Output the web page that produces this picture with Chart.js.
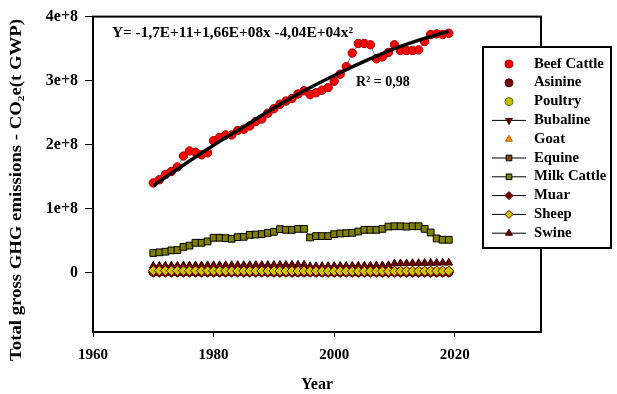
<!DOCTYPE html>
<html>
<head>
<meta charset="utf-8">
<script src="https://cdn.jsdelivr.net/npm/chart.js@4"></script>
<style>
  html, body { margin: 0; padding: 0; background: #fff; }
</style>
</head>
<body>
<canvas id="myChart" width="617" height="394"></canvas>
<script>
// years of the series
const years = [1970,1971,1972,1973,1974,1975,1976,1977,1978,1979,
               1980,1981,1982,1983,1984,1985,1986,1987,1988,1989,
               1990,1991,1992,1993,1994,1995,1996,1997,1998,1999,
               2000,2001,2002,2003,2004,2005,2006,2007,2008,2009,
               2010,2011,2012,2013,2014,2015,2016,2017,2018,2019];

// values in million t CO2e
const beefCattle = [140,145,153,158,165,182,190,188,184,187,
                    206,211,215,215,222,224,229,236,240,249,
                    256,263,268,272,279,284,278,281,285,289,
                    299,310,322,343,358,358,356,334,337,344,
                    356,347,347,347,348,361,372,373,372,374];
const milkCattle = [30.5,31.5,32.5,34.6,35,40,42,46.5,46.5,48.6,
                    54.3,54.3,53.7,52.7,55.3,55.8,58.9,59.4,60,62,
                    63.6,67.7,66.7,66.7,68.2,68.2,54.8,56.9,56.9,56.9,
                    59.9,61,61.5,62,64,66.7,66.7,66.7,68.2,71.8,
                    72.3,72.3,71.8,72.3,72.3,68.2,62.5,53.2,51.2,51.2];
const swine = [10.2,10.3,10.4,10.5,10.6,10.8,10.9,11.0,11.0,11.1,
               11.2,11.2,11.3,11.3,11.4,11.4,11.5,11.5,11.6,11.6,
               11.7,11.8,11.8,11.9,11.9,12.0,9.6,9.7,9.8,9.9,
               10.0,10.1,10.2,10.3,10.4,10.5,10.6,10.7,10.9,11.2,
               14.0,14.2,14.3,14.5,14.6,14.8,14.9,15.0,15.1,15.2];
const sheep = [2.8,2.8,2.7,2.7,2.7,2.6,2.6,2.6,2.5,2.5,
               2.5,2.5,2.4,2.4,2.4,2.4,2.3,2.3,2.3,2.3,
               2.3,2.2,2.2,2.2,2.2,2.2,2.1,2.1,2.1,2.1,
               2.1,2.1,2.0,2.0,2.0,2.0,2.0,2.0,2.1,2.1,
               2.1,2.1,2.2,2.2,2.2,2.2,2.3,2.3,2.3,2.3];
const poultry = [0.5,0.5,0.6,0.6,0.6,0.7,0.7,0.7,0.8,0.8,
                 0.8,0.9,0.9,0.9,1.0,1.0,1.0,1.1,1.1,1.1,
                 1.2,1.2,1.2,1.3,1.3,1.3,1.4,1.4,1.4,1.5,
                 1.5,1.5,1.6,1.6,1.6,1.7,1.7,1.7,1.8,1.8,
                 1.8,1.9,1.9,1.9,2.0,2.0,2.0,2.1,2.1,2.1];
const bubaline = [0.9,0.9,0.9,0.9,0.9,0.9,0.9,0.9,0.9,0.9,
                  0.9,0.9,0.9,0.9,0.9,0.8,0.8,0.8,0.8,0.8,
                  0.8,0.8,0.8,0.8,0.8,0.8,0.8,0.8,0.8,0.8,
                  0.8,0.8,0.8,0.8,0.8,0.9,0.9,0.9,0.9,0.9,
                  0.9,0.9,0.9,0.9,0.9,0.9,0.9,0.9,0.9,0.9];
const muar = [0.3,0.3,0.3,0.3,0.3,0.3,0.3,0.3,0.3,0.3,
              0.3,0.3,0.3,0.3,0.3,0.3,0.3,0.3,0.3,0.3,
              0.2,0.2,0.2,0.2,0.2,0.2,0.2,0.2,0.2,0.2,
              0.2,0.2,0.2,0.2,0.2,0.2,0.2,0.2,0.2,0.2,
              0.2,0.2,0.2,0.2,0.2,0.2,0.2,0.2,0.2,0.2];
const equine = [0.6,0.6,0.6,0.6,0.6,0.6,0.6,0.6,0.6,0.6,
                0.5,0.5,0.5,0.5,0.5,0.5,0.5,0.5,0.5,0.5,
                0.5,0.5,0.5,0.5,0.5,0.5,0.5,0.5,0.5,0.5,
                0.4,0.4,0.4,0.4,0.4,0.4,0.4,0.4,0.4,0.4,
                0.4,0.4,0.4,0.4,0.4,0.4,0.4,0.4,0.4,0.4];
const goat = [0.4,0.4,0.4,0.4,0.4,0.4,0.4,0.4,0.4,0.4,
              0.4,0.4,0.4,0.4,0.4,0.4,0.4,0.4,0.4,0.4,
              0.4,0.4,0.4,0.4,0.4,0.4,0.4,0.4,0.4,0.4,
              0.4,0.4,0.4,0.4,0.4,0.4,0.4,0.4,0.4,0.4,
              0.4,0.4,0.4,0.4,0.4,0.4,0.4,0.4,0.4,0.4];
const asinine = [0.2,0.2,0.2,0.2,0.2,0.2,0.2,0.2,0.2,0.2,
                 0.2,0.2,0.2,0.2,0.2,0.2,0.2,0.2,0.2,0.2,
                 0.1,0.1,0.1,0.1,0.1,0.1,0.1,0.1,0.1,0.1,
                 0.1,0.1,0.1,0.1,0.1,0.1,0.1,0.1,0.1,0.1,
                 0.1,0.1,0.1,0.1,0.1,0.1,0.1,0.1,0.1,0.1];

// polynomial trend line (million t)
const trendYears = [1970,1975,1980,1985,1990,1995,2000,2005,2010,2015,2019];
const trendValues = [136,168,199,228,257,284,308,330,350,366,377];

const yTicks = [0, 1e8, 2e8, 3e8, 4e8];
const yTickLabels = ['0', '1e+8', '2e+8', '3e+8', '4e+8'];
const xTicks = [1960, 1980, 2000, 2020];

const equationText = 'Y= -1,7E+11+1,66E+08x -4,04E+04x²';
const r2Text = 'R² = 0,98';
const yTitle = 'Total gross GHG emissions - CO₂e(t GWP)';

const FONT = "'Liberation Serif', 'Times New Roman', serif";
Chart.defaults.font.family = FONT;
Chart.defaults.color = '#000';

function series(label, values, style) {
  return Object.assign({
    label: label,
    data: years.map((x, i) => ({ x: x, y: values[i] * 1e6 })),
    inLegend: true,
    pointBorderWidth: 1,
    borderColor: '#000',
    borderWidth: 1
  }, style);
}

const datasets = [
  {
    label: 'trend',
    data: trendYears.map((x, i) => ({ x: x, y: trendValues[i] * 1e6 })),
    showLine: true,
    borderColor: '#000',
    borderWidth: 3.5,
    pointRadius: 0,
    cubicInterpolationMode: 'monotone',
    inLegend: false,
    order: -3
  },
  series('Beef Cattle', beefCattle, { showLine: true, borderColor: '#808080', borderWidth: 1,
    pointStyle: 'circle', pointRadius: 4.2, pointBackgroundColor: '#ff0000', pointBorderColor: '#a00000',
    legendLine: false, order: -2 }),
  series('Asinine', asinine, { showLine: false, pointStyle: 'circle', pointRadius: 4,
    pointBackgroundColor: '#7a0c0c', pointBorderColor: '#4a0000', legendLine: false }),
  series('Poultry', poultry, { showLine: false, pointStyle: 'circle', pointRadius: 4,
    pointBackgroundColor: '#c0c000', pointBorderColor: '#6a6a00', legendLine: false }),
  series('Bubaline', bubaline, { showLine: true, pointStyle: 'triangle', pointRotation: 180, pointRadius: 4.5,
    pointBackgroundColor: '#6a0000', pointBorderColor: '#3a0000', legendLine: true }),
  series('Goat', goat, { showLine: false, pointStyle: 'triangle', pointRadius: 4,
    pointBackgroundColor: '#ff8c00', pointBorderColor: '#c06000', legendLine: false }),
  series('Equine', equine, { showLine: true, pointStyle: 'rect', pointRadius: 4.5,
    pointBackgroundColor: '#8b4513', pointBorderColor: '#000', legendLine: true }),
  series('Milk Cattle', milkCattle, { showLine: true, pointStyle: 'rect', pointRadius: 4.8,
    pointBackgroundColor: '#808000', pointBorderColor: '#000', legendLine: true }),
  series('Muar', muar, { showLine: true, pointStyle: 'rectRot', pointRadius: 5,
    pointBackgroundColor: '#7a0000', pointBorderColor: '#4a0000', legendLine: true }),
  series('Sheep', sheep, { showLine: true, pointStyle: 'rectRot', pointRadius: 5,
    pointBackgroundColor: '#c8c800', pointBorderColor: '#7a0000', legendLine: true, order: -1 }),
  series('Swine', swine, { showLine: true, pointStyle: 'triangle', pointRadius: 4.5,
    pointBackgroundColor: '#6a0000', pointBorderColor: '#3a0000', legendLine: true, order: -1 })
];

// draw text stretched to a target width along its direction
function stretchedText(ctx, text, x, y, width) {
  const w = ctx.measureText(text).width;
  ctx.save();
  ctx.translate(x, y);
  ctx.scale(width / w, 1);
  ctx.fillText(text, 0, 0);
  ctx.restore();
}

// frame, texts and the boxed legend
const decorations = {
  id: 'decorations',
  afterDraw(chart) {
    const ctx = chart.ctx;
    const a = chart.chartArea;
    ctx.save();
    ctx.strokeStyle = '#000';
    ctx.lineWidth = 2;
    ctx.strokeRect(a.left, a.top, a.right - a.left, a.bottom - a.top);

    ctx.fillStyle = '#000';
    ctx.textBaseline = 'middle';
    ctx.textAlign = 'left';
    ctx.font = 'bold 14px ' + FONT;
    stretchedText(ctx, equationText, 112, 33, 241);
    ctx.fillText(r2Text, 356, 82);

    // y axis title
    ctx.save();
    ctx.translate(17, 190);
    ctx.rotate(-Math.PI / 2);
    ctx.textAlign = 'center';
    ctx.font = 'bold 16px ' + FONT;
    stretchedText(ctx, yTitle, 0, 0, 342);
    ctx.restore();

    // legend
    const lx = 483, ly = 47, lw = 128, lh = 201;
    ctx.fillStyle = '#fff';
    ctx.fillRect(lx, ly, lw, lh);
    ctx.lineWidth = 2;
    ctx.strokeStyle = '#000';
    ctx.strokeRect(lx, ly, lw, lh);
    const items = chart.data.datasets.filter(d => d.inLegend);
    items.forEach((d, i) => {
      const y = 64 + i * 18.8;
      if (d.legendLine) {
        ctx.lineWidth = 1;
        ctx.strokeStyle = '#000';
        ctx.beginPath();
        ctx.moveTo(492, y);
        ctx.lineTo(526, y);
        ctx.stroke();
      }
      ctx.fillStyle = d.pointBackgroundColor;
      ctx.strokeStyle = d.pointBorderColor;
      ctx.lineWidth = 1;
      Chart.helpers.drawPoint(ctx, {
        pointStyle: d.pointStyle,
        rotation: d.pointRotation || 0,
        radius: 4,
        borderWidth: 1
      }, 509, y);
      ctx.fillStyle = '#000';
      ctx.font = 'bold 14px ' + FONT;
      ctx.textAlign = 'left';
      stretchedText(ctx, d.label, 534, y, ctx.measureText(d.label).width * 1.05);
    });
    ctx.restore();
  }
};

const ctx = document.getElementById('myChart').getContext('2d');
const chart = new Chart(ctx, {
  type: 'scatter',
  data: { datasets: datasets },
  options: {
    responsive: false,
    animation: false,
    layout: { padding: { left: 0, top: 15, right: 76, bottom: 0 } },
    plugins: { legend: { display: false }, tooltip: { enabled: false } },
    scales: {
      x: {
        type: 'linear',
        min: 1960,
        max: 2034.3,
        afterBuildTicks: s => { s.ticks = xTicks.map(v => ({ value: v })); },
        afterFit: s => { s.height = 62; },
        ticks: { font: { size: 15, weight: 'bold' }, color: '#000', padding: 9, maxRotation: 0,
                 callback: v => String(v) },
        grid: { display: true, drawOnChartArea: false, drawTicks: true, tickLength: 5, color: '#000', lineWidth: 1 },
        border: { display: false },
        title: { display: true, text: 'Year', color: '#000', font: { size: 16, weight: 'bold' },
                 padding: { top: 0, bottom: 0 } }
      },
      y: {
        type: 'linear',
        min: -0.93e8,
        max: 4e8,
        afterBuildTicks: s => { s.ticks = yTicks.map(v => ({ value: v })); },
        afterFit: s => { s.width = 93; },
        ticks: { font: { size: 16, weight: 'bold' }, color: '#000', padding: 7,
                 callback: (v, i) => yTickLabels[i] },
        grid: { display: true, drawOnChartArea: false, drawTicks: true, tickLength: 8, color: '#000', lineWidth: 1 },
        border: { display: false }
      }
    }
  },
  plugins: [decorations]
});
</script>
</body>
</html>
